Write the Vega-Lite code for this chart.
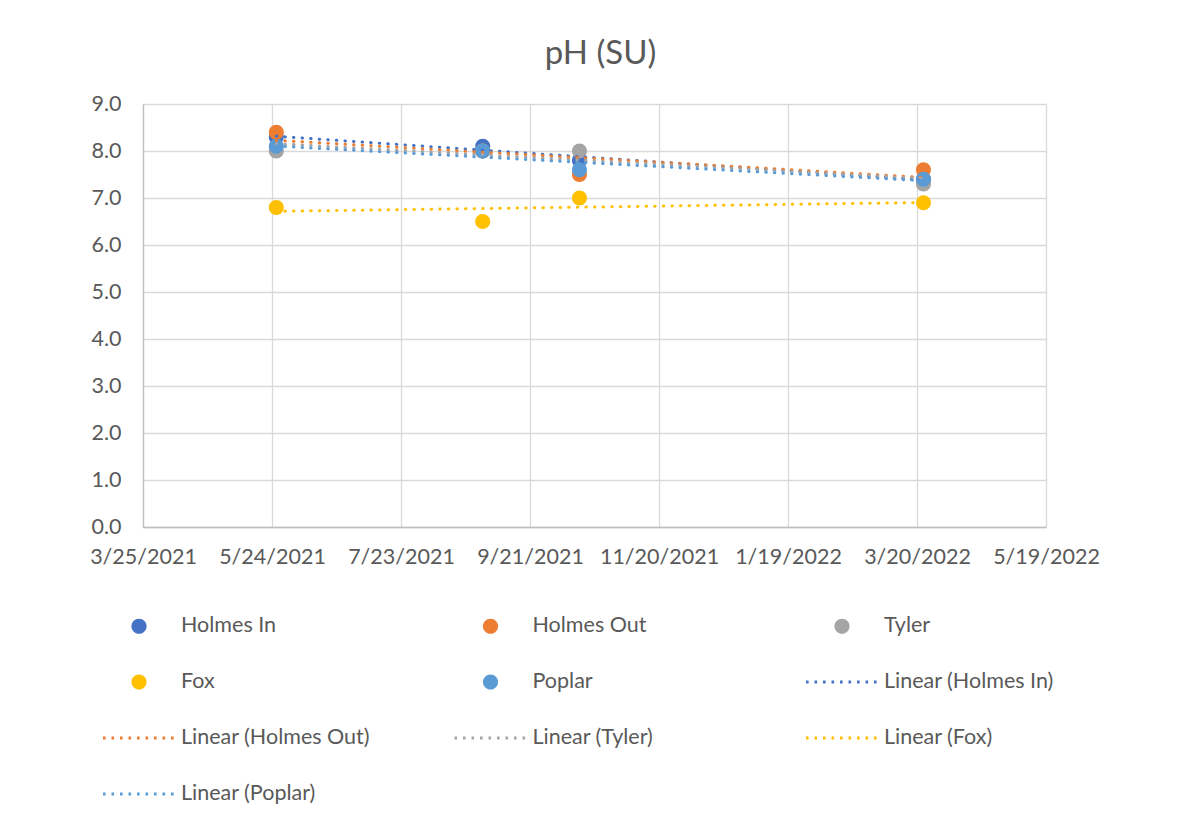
{
  "$schema": "https://vega.github.io/schema/vega-lite/v6.json",
  "autosize": {"type": "none"},
  "width": 903,
  "height": 423,
  "padding": {"left": 143, "top": 104, "right": 154, "bottom": 289},
  "background": "white",
  "title": {
    "text": "pH (SU)",
    "font": "Lato",
    "fontSize": 33,
    "fontWeight": "normal",
    "color": "#595959",
    "anchor": "middle",
    "offset": 22,
    "dx": 6
  },
  "config": {
    "view": {"stroke": null},
    "font": "Lato",
    "axis": {
      "labelFont": "Lato",
      "labelFontSize": 21.5,
      "labelColor": "#595959",
      "gridColor": "#D9D9D9",
      "gridWidth": 1.3,
      "domainColor": "#BFBFBF",
      "domainWidth": 1.3,
      "ticks": false,
      "title": null
    }
  },
  "resolve": {
    "scale": {"color": "independent", "stroke": "independent", "shape": "independent", "strokeDash": "independent"}
  },
  "data": {
    "values": [
      {"date": "2021/05/26", "series": "Holmes In", "trend": "Linear (Holmes In)", "value": 8.3},
      {"date": "2021/08/30", "series": "Holmes In", "trend": "Linear (Holmes In)", "value": 8.1},
      {"date": "2021/10/14", "series": "Holmes In", "trend": "Linear (Holmes In)", "value": 7.8},
      {"date": "2022/03/23", "series": "Holmes In", "trend": "Linear (Holmes In)", "value": 7.4},
      {"date": "2021/05/26", "series": "Holmes Out", "trend": "Linear (Holmes Out)", "value": 8.4},
      {"date": "2021/08/30", "series": "Holmes Out", "trend": "Linear (Holmes Out)", "value": 8.0},
      {"date": "2021/10/14", "series": "Holmes Out", "trend": "Linear (Holmes Out)", "value": 7.5},
      {"date": "2022/03/23", "series": "Holmes Out", "trend": "Linear (Holmes Out)", "value": 7.6},
      {"date": "2021/05/26", "series": "Tyler", "trend": "Linear (Tyler)", "value": 8.0},
      {"date": "2021/08/30", "series": "Tyler", "trend": "Linear (Tyler)", "value": 8.0},
      {"date": "2021/10/14", "series": "Tyler", "trend": "Linear (Tyler)", "value": 8.0},
      {"date": "2022/03/23", "series": "Tyler", "trend": "Linear (Tyler)", "value": 7.3},
      {"date": "2021/05/26", "series": "Fox", "trend": "Linear (Fox)", "value": 6.8},
      {"date": "2021/08/30", "series": "Fox", "trend": "Linear (Fox)", "value": 6.5},
      {"date": "2021/10/14", "series": "Fox", "trend": "Linear (Fox)", "value": 7.0},
      {"date": "2022/03/23", "series": "Fox", "trend": "Linear (Fox)", "value": 6.9},
      {"date": "2021/05/26", "series": "Poplar", "trend": "Linear (Poplar)", "value": 8.1},
      {"date": "2021/08/30", "series": "Poplar", "trend": "Linear (Poplar)", "value": 8.0},
      {"date": "2021/10/14", "series": "Poplar", "trend": "Linear (Poplar)", "value": 7.6},
      {"date": "2022/03/23", "series": "Poplar", "trend": "Linear (Poplar)", "value": 7.4}
    ],
    "format": {"parse": {"date": "date"}}
  },
  "layer": [
    {
      "mark": {"type": "point", "filled": true, "opacity": 1, "size": 5102},
      "encoding": {
        "x": {
          "field": "date",
          "type": "temporal",
          "scale": {
            "domain": [
              {"year": 2021, "month": 3, "date": 25},
              {"year": 2022, "month": 5, "date": 19}
            ],
            "nice": false
          },
          "axis": {
            "values": [
              {"year": 2021, "month": 3, "date": 25},
              {"year": 2021, "month": 5, "date": 24},
              {"year": 2021, "month": 7, "date": 23},
              {"year": 2021, "month": 9, "date": 21},
              {"year": 2021, "month": 11, "date": 20},
              {"year": 2022, "month": 1, "date": 19},
              {"year": 2022, "month": 3, "date": 20},
              {"year": 2022, "month": 5, "date": 19}
            ],
            "format": "%-m/%-d/%Y",
            "labelPadding": 19,
            "labelFlush": false,
            "labelOverlap": false
          }
        },
        "y": {
          "field": "value",
          "type": "quantitative",
          "scale": {"domain": [0, 9], "nice": false, "zero": true},
          "axis": {
            "values": [0, 1, 2, 3, 4, 5, 6, 7, 8, 9],
            "format": ".1f",
            "labelPadding": 22
          }
        },
        "color": {
          "field": "series",
          "type": "nominal",
          "scale": {
            "domain": ["Holmes In", "Holmes Out", "Tyler", "Fox", "Poplar", "Linear (Holmes In)", "Linear (Holmes Out)", "Linear (Tyler)", "Linear (Fox)", "Linear (Poplar)"],
            "range": ["#4472C4", "#ED7D31", "#A5A5A5", "#FFC000", "#5B9BD5", "#4472C4", "#ED7D31", "#A5A5A5", "#FFC000", "#5B9BD5"]
          },
          "legend": {
            "title": null,
            "orient": "none",
            "direction": "horizontal",
            "legendX": -41.5,
            "legendY": 512,
            "columns": 3,
            "gridAlign": "all",
            "columnPadding": 82.5,
            "rowPadding": 34,
            "padding": 0,
            "clipHeight": 20,
            "symbolSize": 5184,
            "symbolStrokeWidth": 3,
            "symbolOffset": 0,
            "symbolOpacity": 1,
            "labelOffset": 4.5,
            "labelFont": "Lato",
            "labelFontSize": 21.5,
            "labelColor": "#595959",
            "labelLimit": 400
          }
        },
        "stroke": {
          "field": "series",
          "type": "nominal",
          "scale": {
            "domain": ["Holmes In", "Holmes Out", "Tyler", "Fox", "Poplar", "Linear (Holmes In)", "Linear (Holmes Out)", "Linear (Tyler)", "Linear (Fox)", "Linear (Poplar)"],
            "range": ["#4472C4", "#ED7D31", "#A5A5A5", "#FFC000", "#5B9BD5", "#4472C4", "#ED7D31", "#A5A5A5", "#FFC000", "#5B9BD5"]
          },
          "legend": {"title": null}
        },
        "shape": {
          "field": "series",
          "type": "nominal",
          "scale": {
            "domain": ["Holmes In", "Holmes Out", "Tyler", "Fox", "Poplar", "Linear (Holmes In)", "Linear (Holmes Out)", "Linear (Tyler)", "Linear (Fox)", "Linear (Poplar)"],
            "range": [
              "M0,-0.21C0.116,-0.21,0.21,-0.116,0.21,0C0.21,0.116,0.116,0.21,0,0.21C-0.116,0.21,-0.21,0.116,-0.21,0C-0.21,-0.116,-0.116,-0.21,0,-0.21Z",
              "M0,-0.21C0.116,-0.21,0.21,-0.116,0.21,0C0.21,0.116,0.116,0.21,0,0.21C-0.116,0.21,-0.21,0.116,-0.21,0C-0.21,-0.116,-0.116,-0.21,0,-0.21Z",
              "M0,-0.21C0.116,-0.21,0.21,-0.116,0.21,0C0.21,0.116,0.116,0.21,0,0.21C-0.116,0.21,-0.21,0.116,-0.21,0C-0.21,-0.116,-0.116,-0.21,0,-0.21Z",
              "M0,-0.21C0.116,-0.21,0.21,-0.116,0.21,0C0.21,0.116,0.116,0.21,0,0.21C-0.116,0.21,-0.21,0.116,-0.21,0C-0.21,-0.116,-0.116,-0.21,0,-0.21Z",
              "M0,-0.21C0.116,-0.21,0.21,-0.116,0.21,0C0.21,0.116,0.116,0.21,0,0.21C-0.116,0.21,-0.21,0.116,-0.21,0C-0.21,-0.116,-0.116,-0.21,0,-0.21Z",
              "stroke", "stroke", "stroke", "stroke", "stroke"
            ]
          },
          "legend": {"title": null}
        },
        "strokeDash": {
          "field": "series",
          "type": "nominal",
          "scale": {
            "domain": ["Holmes In", "Holmes Out", "Tyler", "Fox", "Poplar", "Linear (Holmes In)", "Linear (Holmes Out)", "Linear (Tyler)", "Linear (Fox)", "Linear (Poplar)"],
            "range": [[0, 50], [0, 50], [0, 50], [0, 50], [0, 50], [2.6, 5.9], [2.6, 5.9], [2.6, 5.9], [2.6, 5.9], [2.6, 5.9]]
          },
          "legend": {"title": null}
        }
      }
    },
    {
      "transform": [
        {"regression": "value", "on": "date", "groupby": ["series", "trend"]}
      ],
      "mark": {"type": "line", "strokeWidth": 3, "strokeDash": [0.5, 8.1], "strokeCap": "round"},
      "encoding": {
        "x": {"field": "date", "type": "temporal"},
        "y": {"field": "value", "type": "quantitative"},
        "color": {
          "field": "trend",
          "type": "nominal",
          "scale": {
            "domain": ["Linear (Holmes In)", "Linear (Holmes Out)", "Linear (Tyler)", "Linear (Fox)", "Linear (Poplar)"],
            "range": ["#4472C4", "#ED7D31", "#A5A5A5", "#FFC000", "#5B9BD5"]
          },
          "legend": null
        },
        "detail": {"field": "series"}
      }
    }
  ]
}
